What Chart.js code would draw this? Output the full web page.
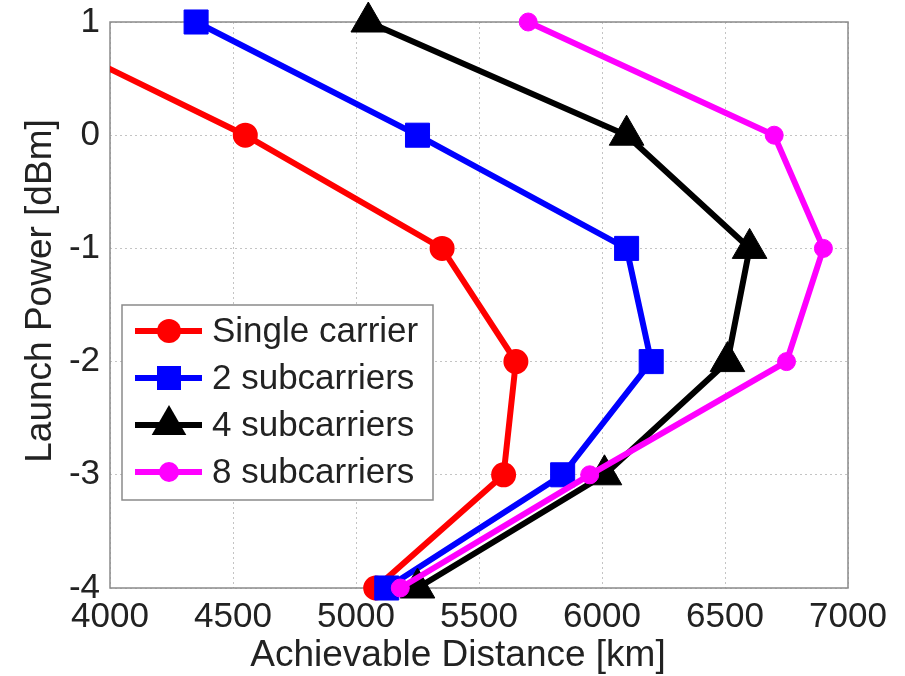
<!DOCTYPE html>
<html>
<head>
<meta charset="utf-8">
<title>Launch power vs achievable distance</title>
<script src="https://cdn.jsdelivr.net/npm/chart.js@4/dist/chart.umd.min.js"></script>
<style>
  html, body { margin: 0; padding: 0; background: #fff; }
  #wrap { width: 905px; height: 676px; }
</style>
</head>
<body>
<div id="wrap"><canvas id="c" width="905" height="676"></canvas></div>
<script>
// Launch power levels (dBm) and achievable distance (km) per configuration
const launchPower = [1, 0, -1, -2, -3, -4];
const singleCarrier = [3610, 4550, 5350, 5650, 5600, 5080];
const twoSubcarriers = [4350, 5250, 6100, 6200, 5840, 5125];
const fourSubcarriers = [5050, 6100, 6600, 6510, 6010, 5250];
const eightSubcarriers = [5700, 6700, 6900, 6750, 5950, 5180];

const seriesNames = ['Single carrier', '2 subcarriers', '4 subcarriers', '8 subcarriers'];
const xTicks = [4000, 4500, 5000, 5500, 6000, 6500, 7000];
const yTicks = [-4, -3, -2, -1, 0, 1];
const xTitle = 'Achievable Distance [km]';
const yTitle = 'Launch Power [dBm]';

const FONT = '"Liberation Sans", Arial, Helvetica, sans-serif';

function toPoints(dist) {
  return dist.map((d, i) => ({ x: d, y: launchPower[i] }));
}

const styles = [
  { color: '#ff0000', pointStyle: 'circle', radius: 11, border: 3 },
  { color: '#0000ff', pointStyle: 'rect', radius: 17, border: 1 },
  { color: '#000000', pointStyle: 'triangle', radius: 20, border: 1 },
  { color: '#ff00ff', pointStyle: 'circle', radius: 9, border: 1 }
];
const seriesData = [singleCarrier, twoSubcarriers, fourSubcarriers, eightSubcarriers];

// Later series are painted over earlier ones
const datasets = seriesData.map((vals, i) => ({
  label: seriesNames[i],
  data: toPoints(vals),
  order: seriesData.length - 1 - i,
  showLine: true,
  clip: { left: 0, top: 20, right: 20, bottom: 20 },
  borderColor: styles[i].color,
  backgroundColor: styles[i].color,
  borderWidth: 6,
  pointStyle: styles[i].pointStyle,
  pointRadius: styles[i].radius,
  pointBorderWidth: styles[i].border,
  pointBackgroundColor: styles[i].color,
  pointBorderColor: styles[i].color,
  tension: 0
}));

// Plot frame around the chart area
const framePlugin = {
  id: 'frame',
  beforeDatasetsDraw(chart) {
    const a = chart.chartArea, ctx = chart.ctx;
    ctx.save();
    ctx.strokeStyle = '#8a8a8a';
    ctx.lineWidth = 1.5;
    ctx.strokeRect(a.left, a.top, a.right - a.left, a.bottom - a.top);
    ctx.restore();
  }
};

function drawMarker(ctx, style, x, y, r, color) {
  ctx.fillStyle = color;
  ctx.strokeStyle = color;
  ctx.beginPath();
  if (style === 'circle') {
    ctx.arc(x, y, r, 0, Math.PI * 2);
  } else if (style === 'rect') {
    const s = r * Math.SQRT1_2;
    ctx.rect(x - s, y - s, 2 * s, 2 * s);
  } else if (style === 'triangle') {
    ctx.moveTo(x, y - r);
    ctx.lineTo(x + r * Math.sin(Math.PI / 3), y + r / 2);
    ctx.lineTo(x - r * Math.sin(Math.PI / 3), y + r / 2);
    ctx.closePath();
  }
  ctx.fill();
}

// Boxed legend inside the plot
const legendBoxPlugin = {
  id: 'legendBox',
  afterDatasetsDraw(chart) {
    const ctx = chart.ctx;
    const box = { x: 122, y: 305, w: 311, h: 195 };
    ctx.save();
    ctx.fillStyle = '#ffffff';
    ctx.fillRect(box.x, box.y, box.w, box.h);
    ctx.strokeStyle = '#8a8a8a';
    ctx.lineWidth = 1.5;
    ctx.strokeRect(box.x, box.y, box.w, box.h);
    ctx.font = '35px ' + FONT;
    ctx.textBaseline = 'middle';
    chart.data.datasets.forEach((ds, i) => {
      const cy = 331 + i * 47;
      const st = styles[i];
      ctx.strokeStyle = st.color;
      ctx.lineWidth = 6;
      ctx.beginPath();
      ctx.moveTo(135, cy);
      ctx.lineTo(202, cy);
      ctx.stroke();
      drawMarker(ctx, st.pointStyle, 169, cy, st.pointStyle === 'circle' ? st.radius + 1 : st.radius, st.color);
      ctx.fillStyle = '#222222';
      ctx.fillText(ds.label, 212, cy + 1);
    });
    ctx.restore();
  }
};

// Axis titles
const axisTitlePlugin = {
  id: 'axisTitles',
  afterDraw(chart) {
    const ctx = chart.ctx;
    ctx.save();
    ctx.fillStyle = '#222222';
    ctx.font = '37px ' + FONT;
    ctx.textAlign = 'center';
    ctx.textBaseline = 'middle';
    ctx.fillText(xTitle, 458, 656);
    ctx.translate(41, 291);
    ctx.rotate(-Math.PI / 2);
    ctx.fillText(yTitle, 0, 0);
    ctx.restore();
  }
};

const tickFont = { family: FONT, size: 35 };

new Chart(document.getElementById('c'), {
  type: 'scatter',
  data: { datasets },
  options: {
    responsive: false,
    animation: false,
    events: [],
    layout: { padding: { top: 22, right: 57, left: 0, bottom: 0 } },
    plugins: {
      legend: { display: false },
      tooltip: { enabled: false }
    },
    scales: {
      x: {
        type: 'linear',
        min: 4000,
        max: 7000,
        afterBuildTicks(scale) { scale.ticks = xTicks.map(v => ({ value: v })); },
        afterFit(scale) { scale.height = 88; },
        ticks: { font: tickFont, color: '#222222', padding: 8, maxRotation: 0, autoSkip: false,
                 callback: v => String(v) },
        grid: { color: '#c4c4c4', lineWidth: 1, drawTicks: false },
        border: { display: false, dash: [2, 3] }
      },
      y: {
        type: 'linear',
        min: -4,
        max: 1,
        afterBuildTicks(scale) { scale.ticks = yTicks.map(v => ({ value: v })); },
        afterFit(scale) { scale.width = 110; scale.paddingTop = 0; scale.paddingBottom = 0; },
        ticks: { font: tickFont, color: '#222222', padding: 10, autoSkip: false,
                 callback: v => String(v) },
        grid: { color: '#c4c4c4', lineWidth: 1, drawTicks: false },
        border: { display: false, dash: [2, 3] }
      }
    }
  },
  plugins: [framePlugin, legendBoxPlugin, axisTitlePlugin]
});
</script>
</body>
</html>
